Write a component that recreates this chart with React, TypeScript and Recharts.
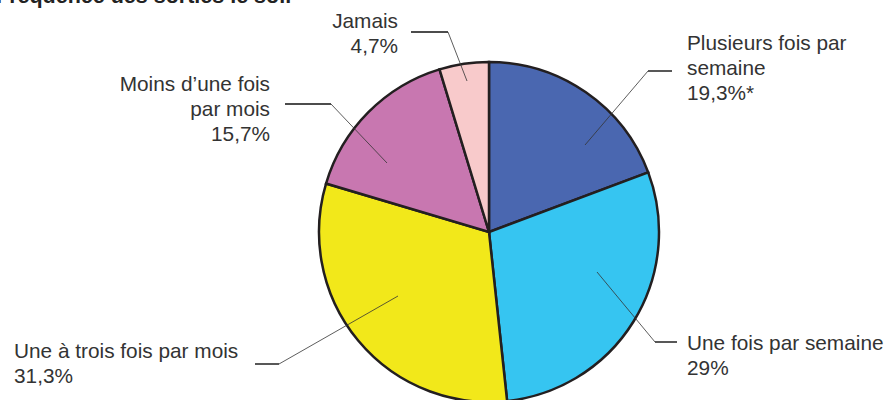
import React from 'react';
import { PieChart, Pie, Cell } from 'recharts';

const categories = [
  'Plusieurs fois par semaine',
  'Une fois par semaine',
  'Une à trois fois par mois',
  "Moins d'une fois par mois",
  'Jamais',
];
const shares = [19.3, 29, 31.3, 15.7, 4.7];
const shareLabels = ['19,3%*', '29%', '31,3%', '15,7%', '4,7%'];
const labelLines = [
  ['Plusieurs fois par', 'semaine'],
  ['Une fois par semaine'],
  ['Une à trois fois par mois'],
  ['Moins d\u2019une fois', 'par mois'],
  ['Jamais'],
];
const colors = ['#4a67b0', '#36c5f1', '#f2e81a', '#c877b0', '#f8cacb'];

const data = categories.map((name, i) => ({ name, value: shares[i] }));

// leader line layout, relative to the pie centre; textDx is measured from the end of the tail
const leaders = [
  { start: [96, -87], elbow: [159, -161], tail: 24, textDx: 15, anchor: 'start', firstDy: -29 },
  { start: [108, 40], elbow: [166, 110], tail: 22, textDx: 10, anchor: 'start', firstDy: 0 },
  { start: [-91, 64], elbow: [-210, 132], tail: -24, textDx: -241, anchor: 'start', firstDy: -14 },
  { start: [-102, -69], elbow: [-158, -128], tail: -46, textDx: -15, anchor: 'end', firstDy: -21 },
  { start: [-22, -151], elbow: [-41, -200], tail: -37, textDx: -13, anchor: 'end', firstDy: -12 },
];

const renderLabel = (props: any) => {
  const { cx, cy, index } = props;
  const l = leaders[index];
  const sx = cx + l.start[0];
  const sy = cy + l.start[1];
  const ex = cx + l.elbow[0];
  const ey = cy + l.elbow[1];
  const tx = ex + l.tail;
  const textX = tx + l.textDx;
  const lines = [...labelLines[index], shareLabels[index]];
  return (
    <g key={`lbl-${index}`}>
      <line x1={sx} y1={sy} x2={ex} y2={ey} stroke="#333" strokeWidth={0.8} />
      <line x1={ex} y1={ey} x2={tx} y2={ey} stroke="#111" strokeWidth={1.4} />
      {lines.map((t, i) => (
        <text
          key={i}
          x={textX}
          y={ey + l.firstDy + i * 25}
          textAnchor={l.anchor as any}
          dominantBaseline="central"
          fill="#333"
          fontSize={20.8}
          fontFamily="'Liberation Sans', Arial, sans-serif"
        >
          {t}
        </text>
      ))}
    </g>
  );
};

export default function App() {
  return (
    <div style={{ position: 'absolute', left: 0, top: 0, width: 888, height: 400, background: '#fff', overflow: 'hidden' }}>
      <div
        style={{
          position: 'absolute',
          left: -4,
          top: -16,
          fontFamily: "'Liberation Sans', Arial, sans-serif",
          fontWeight: 'bold',
          fontSize: 21.5,
          color: '#222',
          whiteSpace: 'nowrap',
        }}
      >
        Fréquence des sorties le soir
      </div>
      <PieChart width={888} height={400} margin={{ top: 0, right: 0, bottom: 0, left: 0 }}>
        <Pie
          data={data}
          dataKey="value"
          cx={489}
          cy={232}
          outerRadius={170}
          startAngle={90}
          endAngle={-270}
          stroke="#231f20"
          strokeWidth={2.5}
          label={renderLabel}
          labelLine={false}
          isAnimationActive={false}
        >
          {data.map((d, i) => (
            <Cell key={d.name} fill={colors[i]} />
          ))}
        </Pie>
      </PieChart>
    </div>
  );
}
